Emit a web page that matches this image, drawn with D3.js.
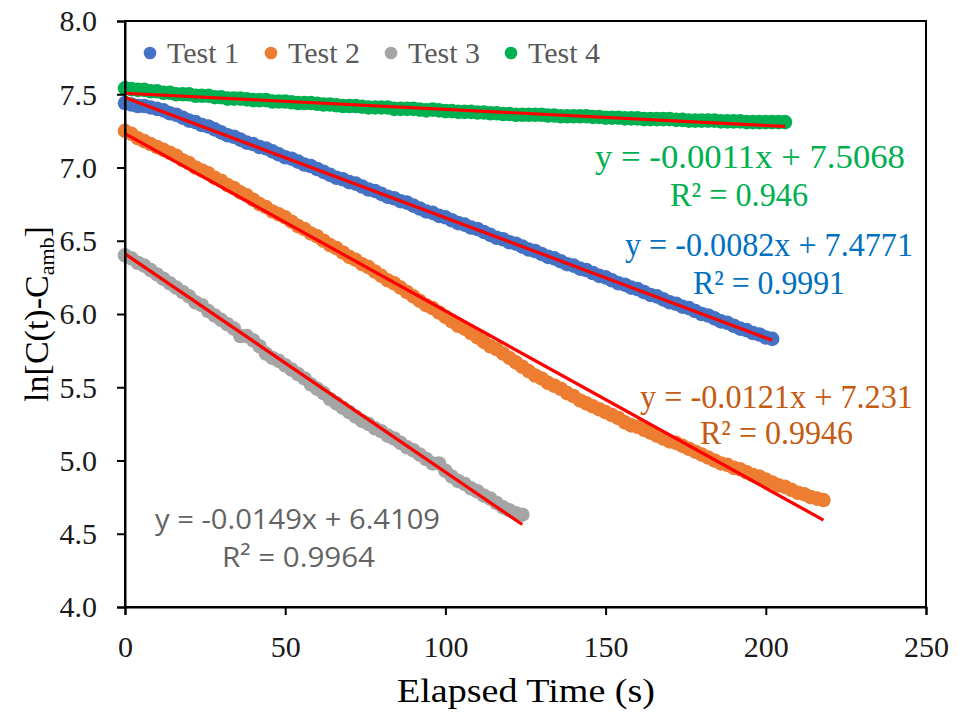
<!DOCTYPE html>
<html><head><meta charset="utf-8">
<script src="https://cdn.jsdelivr.net/npm/d3@7"></script>
<style>body{margin:0;background:#fff}</style>
</head><body>
<svg id="chart" width="965" height="717"></svg>
<script>
// ---------- data ----------
const time = [0,2,4,6,8,10,12,14,16,18,20,22,24,26,28,30,32,34,36,38,40,42,44,46,48,50,52,54,56,58,60,62,64,66,68,70,72,74,76,78,80,82,84,86,88,90,92,94,96,98,100,102,104,106,108,110,112,114,116,118,120,122,124,126,128,130,132,134,136,138,140,142,144,146,148,150,152,154,156,158,160,162,164,166,168,170,172,174,176,178,180,182,184,186,188,190,192,194,196,198,200,202,204,206,208,210,212,214,216,218];

const test1 = [7.44,7.43,7.42,7.42,7.41,7.40,7.39,7.37,7.36,7.34,
7.32,7.31,7.29,7.28,7.26,7.24,7.22,7.21,7.19,7.17,
7.16,7.14,7.13,7.11,7.09,7.07,7.06,7.04,7.02,7.01,
6.99,6.97,6.95,6.93,6.92,6.90,6.89,6.87,6.85,6.84,
6.82,6.80,6.79,6.77,6.76,6.74,6.72,6.70,6.69,6.67,
6.66,6.64,6.62,6.61,6.59,6.58,6.56,6.54,6.52,6.51,
6.49,6.48,6.46,6.44,6.43,6.41,6.39,6.38,6.36,6.34,
6.33,6.31,6.30,6.28,6.26,6.25,6.23,6.21,6.20,6.18,
6.17,6.15,6.13,6.12,6.10,6.08,6.07,6.05,6.04,6.02,
6.00,5.99,5.97,5.95,5.94,5.92,5.90,5.89,5.87,5.86,
5.84,5.83];

const test2 = [7.25,7.23,7.20,7.18,7.16,7.14,7.12,7.10,7.08,7.05,
7.03,7.00,6.98,6.96,6.93,6.91,6.88,6.86,6.83,6.81,
6.78,6.75,6.73,6.70,6.68,6.66,6.63,6.60,6.58,6.55,
6.53,6.50,6.47,6.45,6.42,6.39,6.37,6.34,6.32,6.29,
6.26,6.23,6.21,6.18,6.15,6.12,6.09,6.06,6.04,6.01,
5.98,5.95,5.92,5.90,5.87,5.84,5.81,5.78,5.76,5.73,
5.70,5.67,5.64,5.61,5.58,5.56,5.53,5.51,5.49,5.46,
5.44,5.41,5.39,5.37,5.35,5.33,5.31,5.29,5.26,5.24,
5.23,5.21,5.19,5.17,5.15,5.13,5.12,5.10,5.08,5.06,
5.04,5.02,5.00,4.98,4.97,4.95,4.94,4.92,4.90,4.89,
4.87,4.85,4.83,4.82,4.80,4.78,4.77,4.75,4.74,4.73];

const test3 = [6.40,6.38,6.35,6.33,6.30,6.27,6.24,6.21,6.18,6.15,
6.12,6.08,6.06,6.02,5.99,5.96,5.93,5.90,5.85,5.85,
5.82,5.78,5.73,5.70,5.68,5.65,5.62,5.59,5.56,5.52,
5.49,5.46,5.42,5.39,5.36,5.33,5.30,5.27,5.25,5.22,
5.20,5.17,5.15,5.12,5.09,5.07,5.04,5.01,4.98,4.98,
4.93,4.89,4.86,4.84,4.81,4.79,4.76,4.74,4.71,4.68,
4.66,4.64,4.63];

const test4 = [7.54,7.535,7.53,7.53,7.52,7.52,7.51,7.51,7.50,7.50,
7.50,7.49,7.49,7.49,7.48,7.48,7.47,7.47,7.47,7.465,
7.46,7.46,7.46,7.45,7.45,7.45,7.445,7.44,7.44,7.44,
7.435,7.43,7.43,7.425,7.42,7.42,7.42,7.415,7.41,7.41,
7.41,7.41,7.40,7.40,7.40,7.40,7.395,7.39,7.395,7.39,
7.385,7.385,7.38,7.38,7.38,7.375,7.375,7.37,7.37,7.365,
7.365,7.36,7.36,7.36,7.36,7.36,7.355,7.355,7.35,7.35,
7.35,7.35,7.35,7.345,7.345,7.34,7.34,7.34,7.335,7.335,
7.335,7.33,7.33,7.33,7.33,7.33,7.325,7.325,7.32,7.32,
7.32,7.32,7.32,7.315,7.315,7.315,7.315,7.31,7.31,7.31,
7.31,7.31,7.31,7.31];

const seriesNames = ["Test 1","Test 2","Test 3","Test 4"];
const seriesColors = ["#4472C4","#ED7D31","#A5A5A5","#00B050"];
const fitSlopes = [-0.0082,-0.0121,-0.0149,-0.0011];
const fitIntercepts = [7.4771,7.231,6.4109,7.5068];
const eqTexts = ["y = -0.0082x + 7.4771","y = -0.0121x + 7.231","y = -0.0149x + 6.4109","y = -0.0011x + 7.5068"];
const r2Texts = ["R² = 0.9991","R² = 0.9946","R² = 0.9964","R² = 0.946"];
const eqColors = ["#0070C0","#C55A11","#636363","#00B050"];
const xTicks = [0,50,100,150,200,250];
const yTicks = [4.0,4.5,5.0,5.5,6.0,6.5,7.0,7.5,8.0];

// ---------- layout ----------
const svg = d3.select("#chart");
const L=125, R=926, T=21, B=607;
const x = d3.scaleLinear().domain([0,250]).range([L,R]);
const y = d3.scaleLinear().domain([4,8]).range([B,T]);
const serif = "'Liberation Serif','Times New Roman',serif";
const sans = "'Open Sans','Liberation Sans',Arial,sans-serif";

const allSeries = [test1,test2,test3,test4].map((vals,i)=>({
  name: seriesNames[i], color: seriesColors[i],
  pts: vals.map((v,j)=>({t: time[j], v}))
}));

// markers
allSeries.forEach(s=>{
  svg.append("g").selectAll("circle").data(s.pts).join("circle")
    .attr("cx",d=>x(d.t)).attr("cy",d=>y(d.v)).attr("r",7.3)
    .attr("fill",s.color);
});

// trendlines
allSeries.forEach((s,i)=>{
  const tMax = d3.max(s.pts,d=>d.t);
  const line = d3.line().x(d=>x(d)).y(d=>y(fitIntercepts[i]+fitSlopes[i]*d));
  svg.append("path").attr("d",line([0,tMax])).attr("stroke","#FF0000")
    .attr("stroke-width",3.2).attr("fill","none");
});

// frame
svg.append("rect").attr("x",L).attr("y",T).attr("width",R-L).attr("height",B-T)
  .attr("fill","none").attr("stroke","#000").attr("stroke-width",2);

// axes
const yAxis = svg.append("g").attr("transform",`translate(${L},0)`)
  .call(d3.axisLeft(y).tickValues(yTicks).tickFormat(d3.format(".1f")).tickSize(8).tickPadding(20));
const xAxis = svg.append("g").attr("transform",`translate(0,${B})`)
  .call(d3.axisBottom(x).tickValues(xTicks).tickFormat(d3.format("d")).tickSize(8));
[yAxis,xAxis].forEach(a=>{
  a.attr("font-family",serif).attr("font-size",30);
  a.select(".domain").attr("stroke","#000").attr("stroke-width",2);
  a.selectAll(".tick line").attr("stroke","#000").attr("stroke-width",2);
  a.selectAll("text").style("font-family",serif).attr("font-size",30).attr("fill","#1a1a1a");
});
yAxis.selectAll("text").attr("dy","0.33em");
xAxis.selectAll("text").attr("dy",null).attr("y",50);

// axis titles
svg.append("text").attr("x",526).attr("y",702).attr("text-anchor","middle")
  .style("font-family",serif).attr("font-size",34).attr("fill","#000")
  .attr("textLength",258).attr("lengthAdjust","spacingAndGlyphs")
  .text("Elapsed Time (s)");
const yt = svg.append("text").attr("transform","translate(48,314) rotate(-90)")
  .attr("text-anchor","middle").style("font-family",serif).attr("font-size",34).attr("fill","#000");
yt.append("tspan").text("ln[C(t)-C");
yt.append("tspan").attr("font-size",22).attr("dy",6).text("amb");
yt.append("tspan").attr("dy",-6).text("]");

// legend
const legX = [150,271,391,511];
seriesNames.forEach((n,i)=>{
  svg.append("circle").attr("cx",legX[i]).attr("cy",53).attr("r",6.3).attr("fill",seriesColors[i]);
  svg.append("text").attr("x",legX[i]+17).attr("y",63).style("font-family",serif)
    .attr("font-size",30).attr("fill","#595959").text(n);
});

// equation labels
const eqPos = [
  {x:625,y:256,w:288, rx:693,ry:294,rw:152},
  {x:640,y:408,w:273, rx:700,ry:444,rw:153},
  {x:155,y:529,w:285, rx:222,ry:567,rw:153},
  {x:595,y:168,w:310, rx:670,ry:206,rw:138}
];
eqTexts.forEach((t,i)=>{
  const p = eqPos[i];
  const ff = i===2 ? sans : serif;
  const fs = i===2 ? 28 : 34;
  svg.append("text").attr("x",p.x).attr("y",p.y).style("font-family",ff).attr("font-size",fs)
    .attr("fill",eqColors[i]).attr("textLength",p.w).attr("lengthAdjust","spacingAndGlyphs").text(t);
  svg.append("text").attr("x",p.rx).attr("y",p.ry).style("font-family",ff).attr("font-size",fs)
    .attr("fill",eqColors[i]).attr("textLength",p.rw).attr("lengthAdjust","spacingAndGlyphs").text(r2Texts[i]);
});
</script>
</body></html>
